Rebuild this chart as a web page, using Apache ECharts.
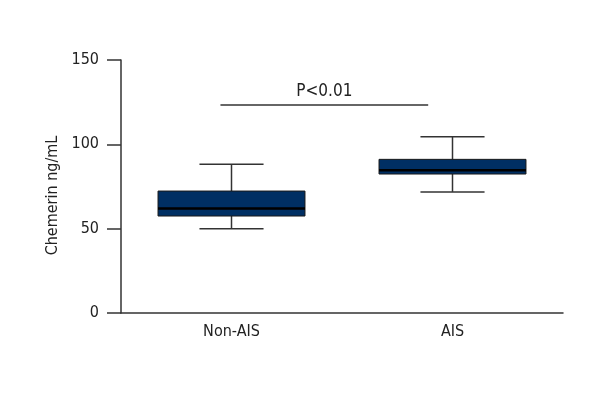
<!DOCTYPE html>
<html><head><meta charset="utf-8">
<script src="https://cdn.jsdelivr.net/npm/echarts@6/dist/echarts.min.js"></script>
<style>html,body{margin:0;padding:0;background:#fff}#c{width:600px;height:400px}</style>
</head><body><div id="c"></div>
<script>
var categories = ['Non-AIS', 'AIS'];
// [min, Q1, median, Q3, max]
var boxValues = [
  [50, 57.5, 62, 72.3, 88.2],
  [71.8, 82.4, 84.6, 91.1, 104.5]
];
var yTicks = [0, 50, 100, 150];
var sigLabel = 'P<0.01';
var sigValue = 123.3;

var FONT = '"Liberation Sans Narrow","DejaVu Sans Condensed",sans-serif';
var chart = echarts.init(document.getElementById('c'));

function renderBox(params, api) {
  var x = api.value(0);
  var lo = api.coord([x, api.value(1)]);
  var q1 = api.coord([x, api.value(2)]);
  var md = api.coord([x, api.value(3)]);
  var q3 = api.coord([x, api.value(4)]);
  var hi = api.coord([x, api.value(5)]);
  var band = api.size([1, 0])[0];
  var bw = band * 0.665;
  var cw = band * 0.29;
  var cx = lo[0];
  var ls = {stroke: '#333', lineWidth: 1.5};
  return {type: 'group', children: [
    {type: 'line', shape: {x1: cx, y1: hi[1], x2: cx, y2: q3[1]}, style: ls},
    {type: 'line', shape: {x1: cx, y1: q1[1], x2: cx, y2: lo[1]}, style: ls},
    {type: 'line', shape: {x1: cx - cw/2, y1: hi[1], x2: cx + cw/2, y2: hi[1]}, style: ls},
    {type: 'line', shape: {x1: cx - cw/2, y1: lo[1], x2: cx + cw/2, y2: lo[1]}, style: ls},
    {type: 'rect', shape: {x: cx - bw/2, y: q3[1], width: bw, height: q1[1] - q3[1]},
      style: {fill: '#002f63', stroke: '#1a1a1a', lineWidth: 1}},
    {type: 'line', shape: {x1: cx - bw/2, y1: md[1], x2: cx + bw/2, y2: md[1]}, style: {stroke: '#000', lineWidth: 2.5}}
  ]};
}

function renderSig(params, api) {
  var a = api.coord([0, sigValue]);
  var b = api.coord([1, sigValue]);
  var band = api.size([1, 0])[0];
  var x1 = a[0] - band * 0.05, x2 = b[0] - band * 0.11;
  return {type: 'group', children: [
    {type: 'line', shape: {x1: x1, y1: a[1], x2: x2, y2: a[1]}, style: {stroke: '#333', lineWidth: 1.5}},
    {type: 'text', x: (x1 + x2) / 2, y: a[1] - 5, style: {text: sigLabel, fill: '#222', font: '17px ' + FONT, textAlign: 'center', textVerticalAlign: 'bottom'}}
  ]};
}

chart.setOption({
  animation: false,
  grid: {left: 121, right: 37, top: 60, bottom: 87},
  xAxis: {
    type: 'category', data: categories,
    axisLine: {lineStyle: {color: '#333', width: 1.5}},
    axisTick: {alignWithLabel: true, length: 6, lineStyle: {color: '#333', width: 1.5}},
    axisLabel: {color: '#222', fontSize: 16, fontFamily: FONT, margin: 11}
  },
  yAxis: {
    type: 'value', min: 0, max: 150, interval: 50,
    name: 'Chemerin ng/mL', nameLocation: 'middle', nameGap: 55, nameRotate: 90,
    nameTextStyle: {color: '#222', fontSize: 16, fontFamily: FONT, padding: [0, 18, 0, 0]},
    axisLine: {show: true, lineStyle: {color: '#333', width: 1.5}},
    axisTick: {show: true, length: 14, lineStyle: {color: '#333', width: 1.5}},
    axisLabel: {color: '#222', fontSize: 16, fontFamily: FONT, margin: 22,
      formatter: function (v) { return yTicks.indexOf(v) >= 0 ? String(v) : ''; }},
    splitLine: {show: false}
  },
  series: [
    {type: 'custom', renderItem: renderBox,
      data: boxValues.map(function (b, i) { return [i].concat(b); }),
      encode: {x: 0, y: [1, 2, 3, 4, 5]}, z: 3},
    {type: 'custom', renderItem: renderSig, data: [[0, sigValue]], encode: {x: 0, y: 1}, z: 4}
  ]
});
</script></body></html>
